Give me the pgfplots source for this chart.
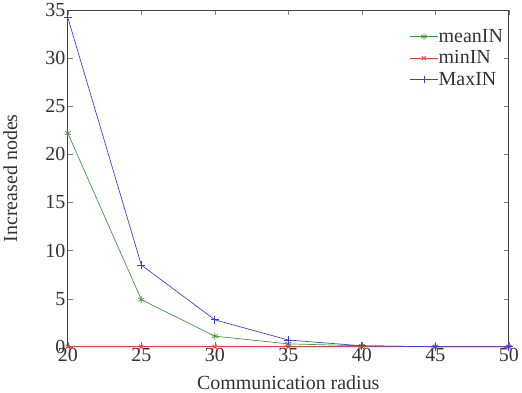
\documentclass[border=0pt]{standalone}
\usepackage{fontspec}
\setmainfont{Liberation Serif}
\usepackage{pgfplots}
\pgfplotsset{compat=1.18}
\definecolor{mgreen}{HTML}{3C9A3C}
\definecolor{mred}{HTML}{E8403C}
\definecolor{mblue}{HTML}{3A3AF5}
\definecolor{txt}{HTML}{333333}
\newcommand{\bigf}{\fontsize{20.5}{22}\selectfont}
\begin{document}
\begin{tikzpicture}
\begin{axis}[
  scale only axis, width=453pt, height=346pt,
  xmin=20, xmax=50, ymin=0, ymax=35,
  xtick={20,25,...,50}, ytick={0,5,...,35},
  /pgf/number format/assume math mode=true,
  tick label style={font=\bigf, color=txt},
  xticklabel style={yshift=2pt},
  yticklabel style={xshift=1pt},
  xlabel={Communication radius}, ylabel={Increased nodes},
  label style={font=\bigf, color=txt},
  xlabel style={yshift=-7pt}, ylabel style={yshift=22pt},
  tick align=inside, major tick length=5pt,
  axis line style={black!75, line width=0.8pt},
  clip=false,
  legend style={draw=none, fill=none, font=\bigf, text=txt,
    nodes={inner sep=0.5pt},
    at={(0.995,0.95)}, anchor=north east, row sep=6pt,
    /tikz/every even column/.append style={column sep=3pt}},
  legend cell align=left,
  legend image code/.code={\draw[mark repeat=2,mark phase=2] plot coordinates {(0cm,0cm) (0.5cm,0cm) (1cm,0cm)};},
]
\addplot[color=mgreen, line width=0.7pt, mark=asterisk, mark size=3.5pt] coordinates {(20,22.2) (25,4.9) (30,1.1) (35,0.3) (40,0.1) (45,0) (50,0)};
\addlegendentry{meanIN}
\addplot[color=mred, line width=0.9pt, mark=x, mark size=3pt] coordinates {(20,0) (25,0) (30,0) (35,0) (40,0) (45,0) (50,0)};
\addlegendentry{minIN}
\addplot[color=mblue, line width=0.7pt, mark=+, mark size=4pt] coordinates {(20,34.2) (25,8.5) (30,2.8) (35,0.7) (40,0.1) (45,0) (50,0)};
\addlegendentry{MaxIN}
\end{axis}
\end{tikzpicture}
\end{document}
